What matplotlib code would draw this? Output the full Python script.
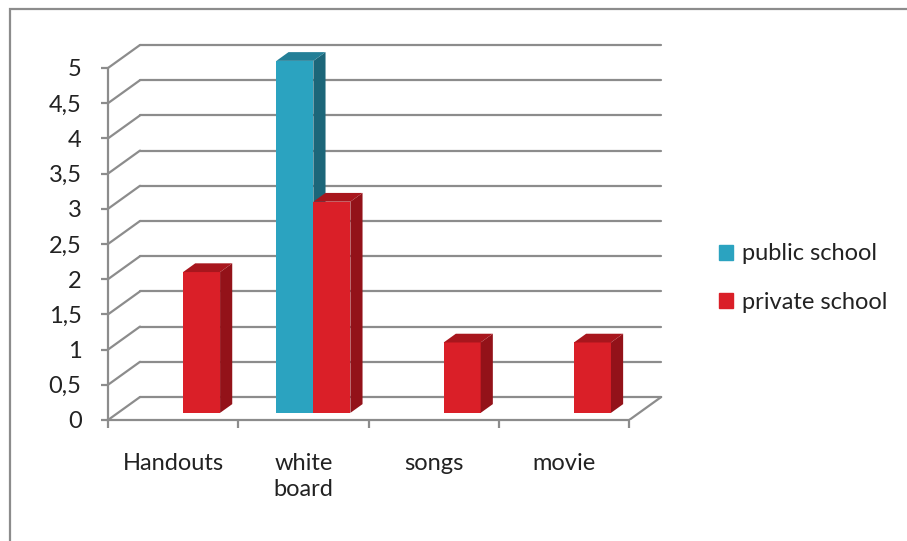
import numpy as np
import matplotlib.pyplot as plt
from matplotlib.patches import Polygon, Rectangle, Patch
from matplotlib.ticker import FuncFormatter

plt.rcParams['font.family'] = ['Lato', 'DejaVu Sans']

categories = ['Handouts', 'white\nboard', 'songs', 'movie']
series_names = ['public school', 'private school']
public_school = [0, 5, 0, 0]
private_school = [2, 3, 1, 1]
yticks = np.arange(0, 5.01, 0.5)

# face colours: front, side, top
blue = ('#2BA3C0', '#1C6679', '#237F97')
red = ('#DA1F28', '#931219', '#A8161D')

fig = plt.figure(figsize=(9.07, 5.41), dpi=100)
ax = fig.add_axes([108 / 907, 121 / 541, 592 / 907, 390 / 541])
ax.set_xlim(-0.5, -0.5 + 592 / 130.3)
ax.set_ylim(0, 390 / 70.4)

# oblique depth of the plot box in data units
DX, DY = 32 / 130.3, 23 / 70.4
f0, f1 = 0.31, 0.69
w = 0.284
n = len(categories)
x = np.arange(n)

grid_kw = dict(color='#8C8C8C', lw=1.6, zorder=1, solid_capstyle='round')
x_back_left = -0.5 + DX
x_back_right = n - 0.5 + DX
for v in yticks:
    ax.plot([-0.5, x_back_left], [v, v + DY], **grid_kw)
    ax.plot([x_back_left, x_back_right], [v + DY, v + DY], **grid_kw)
ax.plot([n - 0.5, x_back_right], [0, DY], **grid_kw)


def draw_bars(xpos, vals, colors):
    bottom = f0 * DY
    ddx, ddy = (f1 - f0) * DX, (f1 - f0) * DY
    for xi, v in zip(xpos, vals):
        if v == 0:
            continue
        ax.bar(xi, v, width=w, bottom=bottom, align='edge',
               color=colors[0], zorder=3, linewidth=0)
        side = [(xi + w, bottom), (xi + w + ddx, bottom + ddy),
                (xi + w + ddx, bottom + ddy + v), (xi + w, bottom + v)]
        top = [(xi, bottom + v), (xi + w, bottom + v),
               (xi + w + ddx, bottom + v + ddy), (xi + ddx, bottom + v + ddy)]
        ax.add_patch(Polygon(side, closed=True, color=colors[1], lw=0, zorder=3))
        ax.add_patch(Polygon(top, closed=True, color=colors[2], lw=0, zorder=3))


base = x + f0 * DX
for i in range(n):
    draw_bars([base[i] - w], [public_school[i]], blue)
    draw_bars([base[i]], [private_school[i]], red)

# axes and ticks
for s in ['top', 'right']:
    ax.spines[s].set_visible(False)
for s in ['left', 'bottom']:
    ax.spines[s].set_color('#8C8C8C')
    ax.spines[s].set_linewidth(1.6)
ax.spines['left'].set_bounds(0, 5)
ax.spines['bottom'].set_bounds(-0.5, n - 0.5)

ax.set_yticks(yticks)
ax.yaxis.set_major_formatter(FuncFormatter(lambda v, p: ('%g' % v).replace('.', ',')))
ax.tick_params(axis='y', direction='out', length=5, width=1.6, color='#8C8C8C',
               pad=14, labelsize=17, labelcolor='#222222')

ax.set_xticks(np.arange(-0.5, n, 1.0))
ax.set_xticklabels([])
ax.set_xticks(x, minor=True)
ax.set_xticklabels(categories, minor=True)
ax.tick_params(axis='x', which='major', direction='out', length=6, width=1.6,
               color='#8C8C8C')
ax.tick_params(axis='x', which='minor', length=0, pad=24, labelsize=17,
               labelcolor='#222222')
for lbl in ax.get_xticklabels(minor=True):
    lbl.set_linespacing(1.3)

handles = [Patch(color=blue[0]), Patch(color=red[0])]
fig.legend(handles, series_names, loc='center left', bbox_to_anchor=(0.769, 0.486),
           frameon=False, fontsize=17, handlelength=0.6, handleheight=0.6,
           handletextpad=0.4, labelspacing=1.15, labelcolor='#222222')

# outer chart frame
fig.patches.append(Rectangle((10 / 907, -0.2), 1.2, 1.2 - 9 / 541,
                             transform=fig.transFigure, fill=False,
                             edgecolor='#8C8C8C', lw=1.6))

fig.savefig('out.png', dpi=100)
